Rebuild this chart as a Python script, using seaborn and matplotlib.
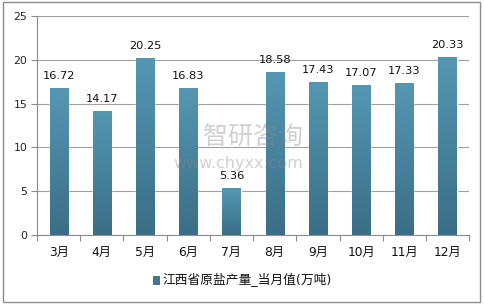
import numpy as np
import pandas as pd
import matplotlib
matplotlib.use("Agg")
import matplotlib.pyplot as plt
import seaborn as sns
from matplotlib.colors import LinearSegmentedColormap
from matplotlib.patches import Rectangle

months = ["3月", "4月", "5月", "6月", "7月", "8月", "9月", "10月", "11月", "12月"]
values = [16.72, 14.17, 20.25, 16.83, 5.36, 18.58, 17.43, 17.07, 17.33, 20.33]
series_name = "江西省原盐产量_当月值(万吨)"
y_ticks = [0, 5, 10, 15, 20, 25]

sns.set_theme(style="white")
plt.rcParams['font.family'] = ['DejaVu Sans', 'Noto Sans CJK SC']

df = pd.DataFrame({"month": months, "value": values})

fig = plt.figure(figsize=(4.85, 3.06), dpi=100)
ax = fig.add_axes([0.0763, 0.232, 0.891, 0.716])

sns.barplot(data=df, x="month", y="value", color="#4a87a3", width=0.42,
            ax=ax, saturation=1)

cmap = LinearSegmentedColormap.from_list("g", ["#3a6e86", "#5597b3"])
grad = np.linspace(0, 1, 256).reshape(-1, 1)
for p in ax.patches:
    x0, y0 = p.get_x(), p.get_y()
    w, h = p.get_width(), p.get_height()
    im = ax.imshow(grad, cmap=cmap, origin="lower", aspect="auto",
                   extent=[x0, x0 + w, y0, y0 + h], zorder=3)
    im.set_clip_path(p)
    p.set_zorder(3)

ax.set_xlim(-0.5, len(months) - 0.5)
ax.set_ylim(0, 25)
ax.set_yticks(y_ticks)
ax.set_yticklabels([str(t) for t in y_ticks], fontsize=7.8, color="#222222")
ax.set_xlabel("")
ax.set_ylabel("")
ax.tick_params(axis="x", length=0, labelsize=8.8, pad=8, colors="#111111")
ax.tick_params(axis="y", length=4, width=0.8, color="#8c8c8c", pad=3, left=True)
ax.set_xticks(range(len(months)))
ax.set_xticklabels(months)

# category boundary tick marks
ax.set_xticks(np.arange(-0.5, len(months)), minor=True)
ax.tick_params(axis="x", which="minor", length=4, width=0.8, color="#8c8c8c", bottom=True)

ax.yaxis.grid(True, color="#a0a0a0", linewidth=0.8, zorder=0)
ax.set_axisbelow(True)
for s in ["top", "right"]:
    ax.spines[s].set_visible(False)
for s in ["left", "bottom"]:
    ax.spines[s].set_color("#8c8c8c")
    ax.spines[s].set_linewidth(0.8)

for i, v in enumerate(values):
    ax.text(i, v + 0.8, f"{v:.2f}", ha="center", va="bottom", fontsize=8.2,
            color="#111111", zorder=5)

# watermark
fig.text(0.418, 0.552, "智研咨询", fontsize=18, color="#8a8a8a", alpha=0.4,
         ha="left", va="center", family=['Noto Sans CJK SC'], zorder=10)
fig.text(0.358, 0.466, "www.chyxx.com", fontsize=11.5, color="#8a8a8a", alpha=0.4,
         ha="left", va="center", zorder=10)

# legend
fig.patches.append(Rectangle((0.315, 0.068), 0.015, 0.031, transform=fig.transFigure,
                             facecolor="#3f7893", edgecolor="none", figure=fig))
fig.text(0.336, 0.084, series_name, fontsize=9.2, color="#111111", ha="left",
         va="center")

# outer border
fig.patches.append(Rectangle((0.006, 0.013), 0.984, 0.98, transform=fig.transFigure,
                             facecolor="none", edgecolor="#8c8c8c", linewidth=1,
                             figure=fig))

fig.savefig("out.png", dpi=100)
